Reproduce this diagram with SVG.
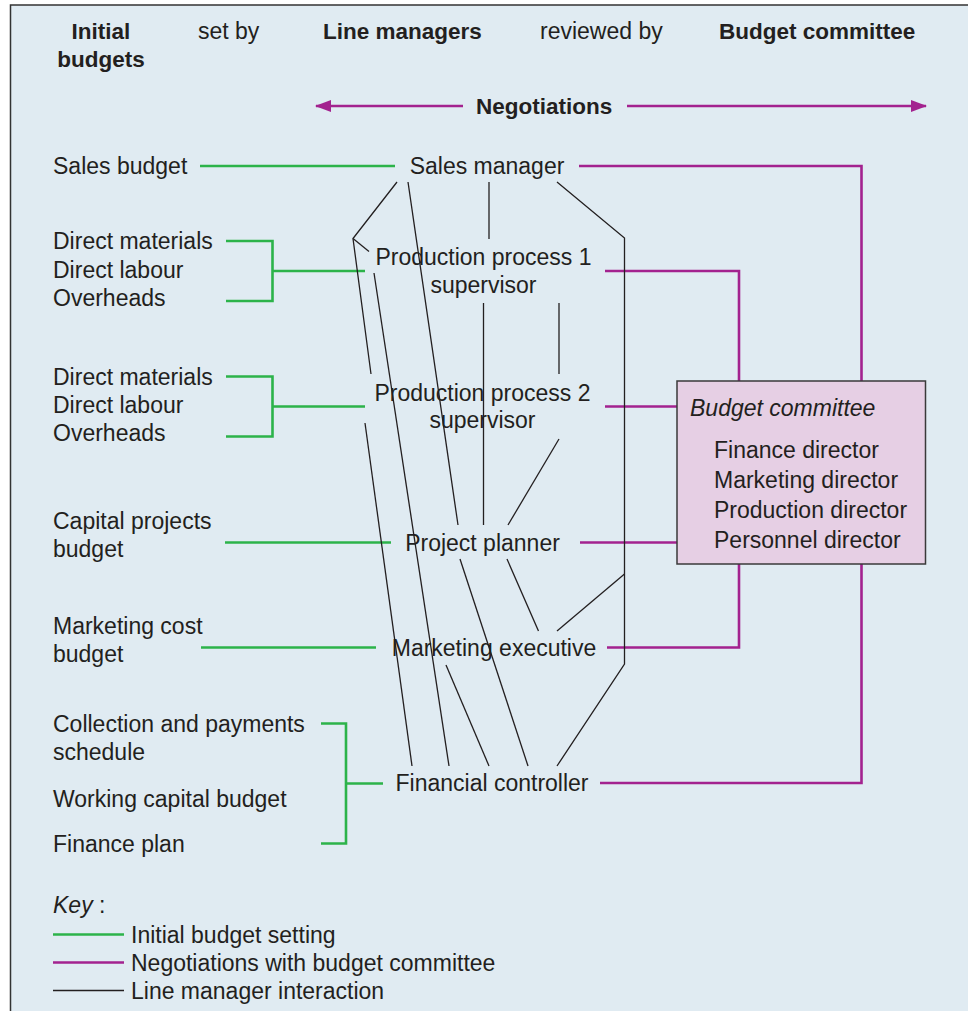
<svg xmlns="http://www.w3.org/2000/svg" width="968" height="1011" viewBox="0 0 968 1011">
  <defs>
    <style>
      .t { font-family: "Liberation Sans", Arial, Helvetica, sans-serif; font-size: 23px; fill: #231f20; }
      .b { font-weight: bold; font-size: 22.5px; }
      .i { font-style: italic; }
      .m { text-anchor: middle; }
      .g { stroke: #2cb34a; stroke-width: 2.6; fill: none; }
      .p { stroke: #a3228f; stroke-width: 2.6; fill: none; }
      .k { stroke: #231f20; stroke-width: 1.3; fill: none; }
    </style>
    <marker id="arrowP" viewBox="0 0 16 12" refX="15" refY="6" markerWidth="16" markerHeight="12" markerUnits="userSpaceOnUse" orient="auto-start-reverse">
      <path d="M0,0 L16,6 L0,12 Z" fill="#a3228f"/>
    </marker>
  </defs>

  <!-- panel -->
  <rect x="0" y="0" width="968" height="1011" fill="#ffffff"/>
  <rect x="10.5" y="5" width="958" height="1006" fill="#e0ebf2"/>
  <path d="M10.5,1011 V5 H968" stroke="#333333" stroke-width="1.5" fill="none"/>

  <!-- column headings -->
  <g id="headings">
    <text class="t b m" x="101" y="39">Initial</text>
    <text class="t b m" x="101" y="67">budgets</text>
    <text class="t" x="198" y="39">set by</text>
    <text class="t b" x="323" y="39">Line managers</text>
    <text class="t" x="540" y="39">reviewed by</text>
    <text class="t b" x="719" y="39">Budget committee</text>
  </g>

  <!-- negotiations arrow -->
  <g id="negotiations">
    <line class="p" x1="316" y1="106" x2="463" y2="106" marker-start="url(#arrowP)"/>
    <line class="p" x1="627" y1="106" x2="926" y2="106" marker-end="url(#arrowP)"/>
    <text class="t b" x="476" y="114">Negotiations</text>
  </g>

  <!-- connectors -->
  <g id="connectors">
    <!-- initial budget setting -->
    <g id="green-links">
      <line class="g" x1="200" y1="166" x2="395" y2="166"/>
      <path class="g" d="M226,241 H272.5 V301 H226 M272.5,271 H365"/>
      <path class="g" d="M226,376.5 H272.5 V436.5 H226 M272.5,406.5 H365"/>
      <line class="g" x1="225" y1="542.5" x2="391" y2="542.5"/>
      <line class="g" x1="201" y1="647.5" x2="376" y2="647.5"/>
      <path class="g" d="M321,723.5 H346 V843.5 H321 M346,783.5 H383"/>
    </g>
    <!-- negotiations with budget committee -->
    <g id="purple-links">
      <path class="p" d="M579,166 H861.5 V381"/>
      <path class="p" d="M605,271 H739 V381"/>
      <line class="p" x1="605" y1="406.5" x2="677" y2="406.5"/>
      <line class="p" x1="580" y1="542.5" x2="677" y2="542.5"/>
      <path class="p" d="M607,647.5 H739 V564"/>
      <path class="p" d="M600,783 H861.5 V564"/>
    </g>
    <!-- line manager interaction -->
    <g id="black-links">
      <polyline class="k" points="397,182 353,238.5 371,374"/>
      <line class="k" x1="353" y1="238.5" x2="369" y2="251.5"/>
      <line class="k" x1="408" y1="182" x2="458" y2="525"/>
      <line class="k" x1="489" y1="182" x2="489" y2="239"/>
      <polyline class="k" points="557,182 624.5,238 624.5,664 557,766"/>
      <line class="k" x1="624.5" y1="574" x2="557" y2="631"/>
      <line class="k" x1="374" y1="273" x2="449" y2="766"/>
      <line class="k" x1="483.5" y1="303" x2="483.5" y2="525"/>
      <line class="k" x1="559" y1="303" x2="559" y2="374"/>
      <line class="k" x1="559" y1="439" x2="508" y2="525"/>
      <line class="k" x1="460" y1="559" x2="528" y2="766"/>
      <line class="k" x1="507" y1="559" x2="538.5" y2="631"/>
      <line class="k" x1="446" y1="665" x2="489" y2="766"/>
      <line class="k" x1="365" y1="423" x2="412" y2="766"/>
    </g>
  </g>

  <!-- initial budgets -->
  <g id="sales-budget"><text class="t" x="53" y="174">Sales budget</text></g>
  <g id="pp1-budgets">
    <text class="t" x="53" y="249">Direct materials</text>
    <text class="t" x="53" y="278">Direct labour</text>
    <text class="t" x="53" y="306">Overheads</text>
  </g>
  <g id="pp2-budgets">
    <text class="t" x="53" y="385">Direct materials</text>
    <text class="t" x="53" y="413">Direct labour</text>
    <text class="t" x="53" y="441">Overheads</text>
  </g>
  <g id="capital-projects-budget">
    <text class="t" x="53" y="529">Capital projects</text>
    <text class="t" x="53" y="557">budget</text>
  </g>
  <g id="marketing-cost-budget">
    <text class="t" x="53" y="634">Marketing cost</text>
    <text class="t" x="53" y="662">budget</text>
  </g>
  <g id="finance-budgets">
    <text class="t" x="53" y="732">Collection and payments</text>
    <text class="t" x="53" y="760">schedule</text>
    <text class="t" x="53" y="807">Working capital budget</text>
    <text class="t" x="53" y="852">Finance plan</text>
  </g>

  <!-- line managers -->
  <g id="sales-manager"><text class="t m" x="487" y="174">Sales manager</text></g>
  <g id="production-process-1">
    <text class="t m" x="483.5" y="265">Production process 1</text>
    <text class="t m" x="483.5" y="293">supervisor</text>
  </g>
  <g id="production-process-2">
    <text class="t m" x="482.5" y="401">Production process 2</text>
    <text class="t m" x="482.5" y="428">supervisor</text>
  </g>
  <g id="project-planner"><text class="t m" x="482.5" y="551">Project planner</text></g>
  <g id="marketing-executive"><text class="t m" x="494" y="656">Marketing executive</text></g>
  <g id="financial-controller"><text class="t m" x="492" y="791">Financial controller</text></g>

  <!-- budget committee -->
  <g id="budget-committee">
    <rect x="677" y="381" width="248.5" height="183" fill="#e6cfe4" stroke="#3a3a3a" stroke-width="1.5"/>
    <text class="t i" x="690" y="416">Budget committee</text>
    <text class="t" x="714" y="458">Finance director</text>
    <text class="t" x="714" y="488">Marketing director</text>
    <text class="t" x="714" y="518">Production director</text>
    <text class="t" x="714" y="548">Personnel director</text>
  </g>

  <!-- key -->
  <g id="key">
    <text class="t" x="53" y="913"><tspan class="i">Key</tspan> :</text>
    <line class="g" x1="53" y1="934.5" x2="124" y2="934.5"/>
    <text class="t" x="131" y="943">Initial budget setting</text>
    <line class="p" x1="53" y1="962.5" x2="124" y2="962.5"/>
    <text class="t" x="131" y="971">Negotiations with budget committee</text>
    <line class="k" x1="53" y1="990.5" x2="124" y2="990.5"/>
    <text class="t" x="131" y="999">Line manager interaction</text>
  </g>
</svg>
